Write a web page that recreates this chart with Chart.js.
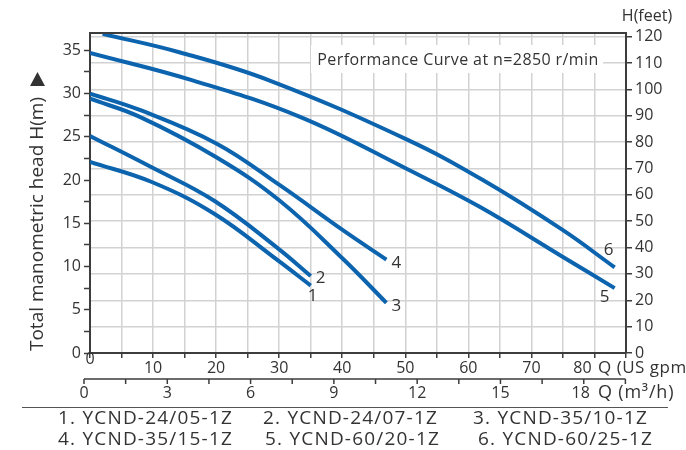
<!DOCTYPE html>
<html>
<head>
<meta charset="utf-8">
<script src="https://cdn.jsdelivr.net/npm/chart.js@4.4.0/dist/chart.umd.min.js"></script>
<style>
  html, body { margin: 0; padding: 0; background: #fff; }
  #wrap { width: 686px; height: 450px; }
</style>
</head>
<body>
<div id="wrap"><canvas id="myChart" width="686" height="450"></canvas></div>
<script>
// flow Q in US gpm, head H in m
const q1 = [0, 9.7, 19.7, 29.8, 35];
const h1 = [22.1, 19.8, 16.1, 10.7, 7.8];
const q2 = [0, 9.7, 19.7, 29.8, 35];
const h2 = [25.1, 21.5, 17.6, 12.1, 8.9];
const q3 = [0, 7.9, 20.1, 30.1, 40.1, 47];
const h3 = [29.4, 27.3, 22.6, 17.6, 10.9, 5.8];
const q4 = [0, 7.9, 20.1, 30.1, 40.1, 47];
const h4 = [30.0, 28.1, 24.2, 19.4, 14.2, 10.8];
const q5 = [0, 16.4, 33.3, 50.2, 61.8, 75, 83.2];
const h5 = [34.7, 31.5, 27.3, 21.3, 16.9, 11.1, 7.5];
const q6 = [2, 14.3, 28.5, 50.2, 62.3, 75, 83.2];
const h6 = [36.9, 34.75, 31.5, 24.7, 20.0, 14.2, 9.9];

const curveNames = ['1', '2', '3', '4', '5', '6'];
const models = [
    '1. YCND-24/05-1Z', '2. YCND-24/07-1Z', '3. YCND-35/10-1Z',
    '4. YCND-35/15-1Z', '5. YCND-60/20-1Z', '6. YCND-60/25-1Z'
];
const m3hTicks = [0, 3, 6, 9, 12, 15, 18];

const GPM_PER_M3H = 4.40287;
const FT_PER_M = 3.28084;

const blue = '#0c63ae';
const gridGrey = '#d2d2d2';
const axisGrey = '#3d3d3d';
const textGrey = '#333333';
const fontFamily = "'Open Sans', sans-serif";

// where each curve number sits relative to the curve end (px)
const labelOffsets = [[2, 11], [10, 2], [10, 3], [10, 4], [-10, 9], [-6, -17]];

const curves = [[q1, h1], [q2, h2], [q3, h3], [q4, h4], [q5, h5], [q6, h6]];

const extras = {
    id: 'extras',
    afterDraw(chart) {
        const ctx = chart.ctx;
        const a = chart.chartArea;
        const x = chart.scales.x;
        ctx.save();

        // top frame
        ctx.strokeStyle = axisGrey;
        ctx.lineWidth = 2;
        ctx.beginPath();
        ctx.moveTo(a.left - 1, a.top);
        ctx.lineTo(a.right + 1, a.top);
        ctx.stroke();

        // title box
        ctx.fillStyle = '#fff';
        ctx.fillRect(311, 45, 292, 28);
        ctx.fillStyle = textGrey;
        ctx.font = '16px ' + fontFamily;
        ctx.letterSpacing = '0.4px';
        ctx.textAlign = 'center';
        ctx.textBaseline = 'middle';
        ctx.fillText('Performance Curve at n=2850 r/min', 458, 60);
        ctx.letterSpacing = '0px';

        // curve numbers
        ctx.font = '17px ' + fontFamily;
        chart.data.datasets.forEach((ds, i) => {
            const meta = chart.getDatasetMeta(i);
            const last = meta.data[meta.data.length - 1];
            ctx.fillText(ds.label, last.x + labelOffsets[i][0], last.y + labelOffsets[i][1]);
        });

        // y title with arrow
        ctx.save();
        ctx.translate(38, 224);
        ctx.rotate(-Math.PI / 2);
        ctx.font = '19px ' + fontFamily;
        ctx.fillText('Total manometric head H(m)', 0, 0);
        ctx.restore();
        ctx.beginPath();
        ctx.moveTo(37.5, 72);
        ctx.lineTo(45, 86);
        ctx.lineTo(30, 86);
        ctx.closePath();
        ctx.fill();

        // right axis unit
        ctx.font = '16px ' + fontFamily;
        ctx.fillText('H(feet)', 647, 16);

        // gpm: raised zero, shifted 80 and unit
        ctx.fillText('0', x.getPixelForValue(0), 359);
        ctx.fillText('80', x.getPixelForValue(80) - 12, 368);
        ctx.textAlign = 'left';
        ctx.font = '17px ' + fontFamily;
        ctx.letterSpacing = '0.5px';
        ctx.fillText('Q (US gpm', 598, 368);
        ctx.letterSpacing = '0px';

        // m3/h axis
        const baseY = 379;
        const px = v => x.getPixelForValue(v * GPM_PER_M3H) - 6;
        ctx.strokeStyle = axisGrey;
        ctx.lineWidth = 1.5;
        ctx.beginPath();
        ctx.moveTo(px(0), baseY);
        ctx.lineTo(px(19.5), baseY);
        for (let v = 0; v <= 19.5; v += 1.5) {
            ctx.moveTo(px(v), baseY);
            ctx.lineTo(px(v), baseY + 5);
        }
        ctx.stroke();
        ctx.font = '16px ' + fontFamily;
        ctx.textAlign = 'center';
        m3hTicks.forEach(v => ctx.fillText(String(v), v === 18 ? px(v) - 3 : px(v), 393));
        ctx.textAlign = 'left';
        ctx.font = '18px ' + fontFamily;
        ctx.letterSpacing = '0.8px';
        ctx.fillText('Q (m\u00B3/h)', 598, 393);
        ctx.letterSpacing = '0px';

        // model list
        ctx.strokeStyle = '#555';
        ctx.lineWidth = 1;
        ctx.beginPath();
        ctx.moveTo(22, 407.5);
        ctx.lineTo(668, 407.5);
        ctx.stroke();
        ctx.font = '19px ' + fontFamily;
        ctx.letterSpacing = '1.2px';
        ctx.textAlign = 'left';
        const colX = [[58, 263, 473], [58, 265, 478]];
        models.forEach((m, i) => {
            const row = Math.floor(i / 3);
            ctx.fillText(m, colX[row][i % 3], 419 + row * 21);
        });

        ctx.restore();
    }
};

const ctx = document.getElementById('myChart');

const config = {
    type: 'line',
    data: {
        datasets: curves.map((c, i) => ({
            label: curveNames[i],
            data: c[0].map((q, k) => ({ x: q, y: c[1][k] })),
            borderColor: blue,
            borderWidth: 4,
            pointRadius: 0,
            tension: 0.4,
            fill: false
        }))
    },
    options: {
        responsive: false,
        animation: false,
        devicePixelRatio: 1,
        layout: { padding: { top: 33, left: 0, right: 0, bottom: 0 } },
        scales: {
            x: {
                type: 'linear',
                min: 0,
                max: 85,
                afterFit: s => { s.height = 97; },
                border: { color: axisGrey, width: 2 },
                grid: { color: gridGrey, lineWidth: 1.5, tickColor: axisGrey, tickLength: 5, tickWidth: 1.5 },
                ticks: {
                    stepSize: 5,
                    autoSkip: false,
                    maxRotation: 0,
                    padding: 1,
                    color: textGrey,
                    font: { family: fontFamily, size: 16 },
                    callback: v => (v % 10 === 0 && v > 0 && v < 80) ? String(v) : ''
                }
            },
            y: {
                position: 'left',
                min: 0,
                max: 37,
                afterFit: s => { s.width = 90; },
                border: { color: axisGrey, width: 2 },
                grid: { drawOnChartArea: false, tickColor: axisGrey, tickLength: 6, tickWidth: 1.5 },
                ticks: {
                    stepSize: 2.5,
                    includeBounds: false,
                    autoSkip: false,
                    padding: 3,
                    color: textGrey,
                    font: { family: fontFamily, size: 16 },
                    callback: v => v % 5 === 0 ? String(v) : ''
                }
            },
            y2: {
                position: 'right',
                min: 0,
                max: 37 * FT_PER_M,
                afterFit: s => { s.width = 60; },
                border: { color: axisGrey, width: 2 },
                grid: { drawOnChartArea: true, color: gridGrey, lineWidth: 1.5, tickColor: axisGrey, tickLength: 6, tickWidth: 1.5 },
                ticks: {
                    stepSize: 10,
                    includeBounds: false,
                    autoSkip: false,
                    padding: 3,
                    color: textGrey,
                    font: { family: fontFamily, size: 16 }
                }
            }
        },
        plugins: {
            legend: { display: false },
            tooltip: { enabled: false }
        }
    },
    plugins: [extras]
};

const myChart = new Chart(ctx, config);
</script>
</body>
</html>
